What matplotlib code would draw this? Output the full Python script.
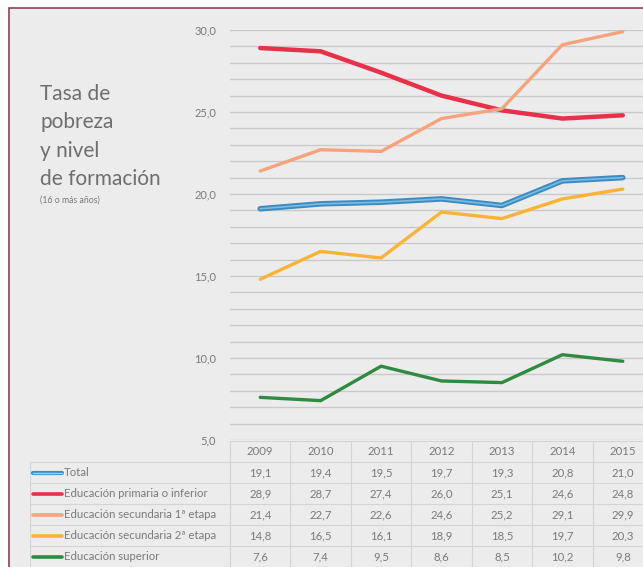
import matplotlib.pyplot as plt
from matplotlib.patches import Rectangle

plt.rcParams['font.family'] = ['Lato', 'DejaVu Sans']

# Data
years = ['2009', '2010', '2011', '2012', '2013', '2014', '2015']
series_names = ['Total',
                'Educación primaria o inferior',
                'Educación secundaria 1ª etapa',
                'Educación secundaria 2ª etapa',
                'Educación superior']
total = [19.1, 19.4, 19.5, 19.7, 19.3, 20.8, 21.0]
primaria = [28.9, 28.7, 27.4, 26.0, 25.1, 24.6, 24.8]
secundaria1 = [21.4, 22.7, 22.6, 24.6, 25.2, 29.1, 29.9]
secundaria2 = [14.8, 16.5, 16.1, 18.9, 18.5, 19.7, 20.3]
superior = [7.6, 7.4, 9.5, 8.6, 8.5, 10.2, 9.8]
values = [total, primaria, secundaria1, secundaria2, superior]
colors = ['#3a8cc2', '#e8304a', '#f9a27c', '#fbb335', '#2f8b40']
widths = [4.0, 3.2, 2.4, 2.4, 2.4]
yticks = [5, 10, 15, 20, 25, 30]

W, H = 643, 567
fig = plt.figure(figsize=(W / 100, H / 100), dpi=100)
fig.patch.set_facecolor('white')

# background panel with maroon border
bg = fig.add_axes([0, 0, 1, 1], zorder=-10)
bg.axis('off')
bg.add_patch(Rectangle((9 / W, -0.1), 1.2, (H - 8) / H + 0.1,
                       transform=bg.transAxes, facecolor='#ececec',
                       edgecolor='#8e3f5e', linewidth=1.2, clip_on=False))

text_gray = '#7a7a7a'
grid_gray = '#c9c9c9'

# main chart
px = 60.43  # pixels per category
ax = fig.add_axes([230 / W, (H - 440) / H, 423 / W, 410 / H])
ax.set_facecolor('none')
x = list(range(len(years)))
ax.set_xlim(-0.5, 6.5)
ax.set_ylim(5, 30)
for yv in range(5, 31):
    ax.axhline(yv, color=grid_gray, lw=1.0, zorder=1)
for i, (vals, c, lw) in enumerate(zip(values, colors, widths)):
    ax.plot(x, vals, color=c, lw=lw, solid_capstyle='round', zorder=3)
    if i == 0:
        ax.plot(x, vals, color='#7cbbe0', lw=1.2, solid_capstyle='round', zorder=4)
ax.set_yticks(yticks)
ax.set_yticklabels([f'{v:.1f}'.replace('.', ',') for v in yticks],
                   fontsize=8, color=text_gray)
ax.tick_params(axis='y', length=0, pad=10)
ax.set_xticks([])
for s in ax.spines.values():
    s.set_visible(False)

# title
fig.text(40 / W, 1 - 84 / H, 'Tasa de\npobreza\ny nivel\nde formación',
         fontsize=15, color='#6e6e6e', va='top', ha='left', linespacing=1.53)
fig.text(40 / W, 1 - 200 / H, '(16 o más años)', fontsize=6.3,
         color=text_gray, va='center', ha='left')

# data table below the chart
left_px = 30
tx0 = -0.5 - (230 - left_px) / px
tab = fig.add_axes([left_px / W, 0, (653 - left_px) / W, 126 / H])
tab.set_facecolor('none')
tab.set_xlim(tx0, 6.5)
tab.set_ylim(6, 0)
tab.axis('off')
line_kw = dict(color='#d4d4d4', lw=0.8)
fs = 8.2
# header row (years)
tab.plot([-0.5, 6.5], [0, 0], **line_kw)
for i, yr in enumerate(years):
    tab.text(i, 0.5, yr, ha='center', va='center', fontsize=fs, color=text_gray)
for r in range(1, 7):
    tab.plot([tx0, 6.5], [r, r], **line_kw)
tab.plot([tx0, tx0], [1, 6], **line_kw)
for c in range(7):
    tab.plot([c - 0.5, c - 0.5], [0, 6], **line_kw)
sw0 = tx0 + 3 / px
sw1 = tx0 + 32 / px
for j, (name, vals, c) in enumerate(zip(series_names, values, colors)):
    yc = j + 1.5
    tab.plot([sw0, sw1], [yc, yc], color=c, lw=3.0 if j == 0 else 2.6,
             solid_capstyle='round')
    if j == 0:
        tab.plot([sw0, sw1], [yc, yc], color='#9fd0ec', lw=1.0)
    tab.text(sw1 + 2 / px, yc, name, ha='left', va='center', fontsize=fs,
             color=text_gray)
    for i, v in enumerate(vals):
        tab.text(i, yc, f'{v:.1f}'.replace('.', ','), ha='center', va='center',
                 fontsize=fs, color=text_gray)

fig.savefig('out.png', dpi=100, facecolor=fig.get_facecolor())
